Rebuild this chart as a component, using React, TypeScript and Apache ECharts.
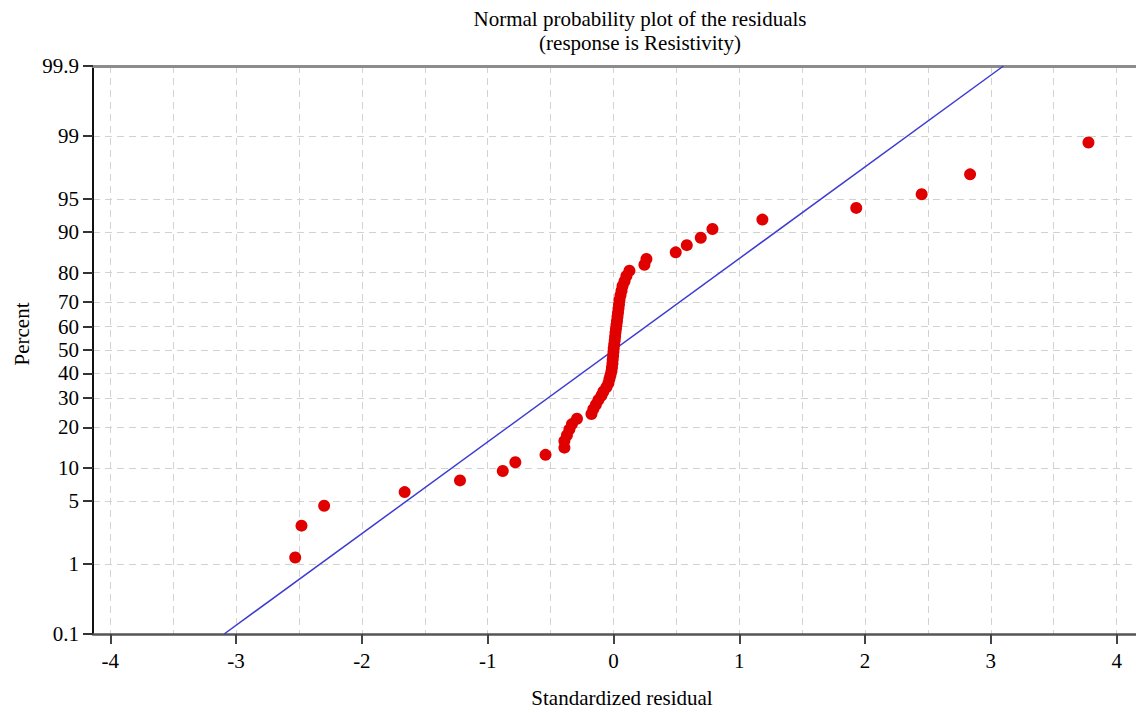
import React, { useEffect, useRef } from "react";
import * as echarts from "echarts";

// Standardized residuals (x) and their normal-probability percents (y)
const residuals = [
  -2.53, -2.48, -2.3, -1.66, -1.22, -0.88, -0.78, -0.54, -0.39, -0.39,
  -0.37, -0.35, -0.33, -0.29, -0.175, -0.16, -0.14, -0.12, -0.095, -0.08,
  -0.056, -0.04, -0.032, -0.024, -0.016, -0.012, -0.008, -0.006, -0.003, 0.0,
  0.002, 0.006, 0.01, 0.013, 0.016, 0.02, 0.024, 0.028, 0.032, 0.036,
  0.04, 0.044, 0.048, 0.056, 0.064, 0.072, 0.088, 0.103, 0.127, 0.246,
  0.262, 0.495, 0.583, 0.694, 0.787, 1.184, 1.93, 2.45, 2.835, 3.776,
];
const percents = [
  1.2, 2.8, 4.5, 6.1, 7.8, 9.4, 11.1, 12.7, 14.4, 16.1,
  17.7, 19.4, 21.0, 22.7, 24.3, 26.0, 27.6, 29.3, 31.0, 32.6,
  34.3, 35.9, 37.6, 39.2, 40.9, 42.5, 44.2, 45.9, 47.5, 49.2,
  50.8, 52.5, 54.1, 55.8, 57.5, 59.1, 60.8, 62.4, 64.1, 65.7,
  67.4, 69.0, 70.7, 72.4, 74.0, 75.7, 77.3, 79.0, 80.6, 82.3,
  83.9, 85.6, 87.3, 88.9, 90.6, 92.2, 93.9, 95.5, 97.2, 98.8,
];

// Reference (fitted normal) line endpoints
const fitResiduals = [-3.095, 3.1];
const fitPercents = [0.1, 99.9];

// Axis ticks
const percentTicks = [0.1, 1, 5, 10, 20, 30, 40, 50, 60, 70, 80, 90, 95, 99, 99.9];
const residualTicks = [-4, -3, -2, -1, 0, 1, 2, 3, 4];
const residualGrid = [-4, -3.5, -3, -2.5, -2, -1.5, -1, -0.5, 0, 0.5, 1, 1.5, 2, 2.5, 3, 3.5, 4];

const titleLine1 = "Normal probability plot of the residuals";
const titleLine2 = "(response is Resistivity)";
const xName = "Standardized residual";
const yName = "Percent";

// probit scale transform (inverse standard normal CDF, Acklam)
function probit(p: number): number {
  const a = [-39.69683028665376, 220.9460984245205, -275.9285104469687, 138.357751867269, -30.66479806614716, 2.506628277459239];
  const b = [-54.47609879822406, 161.5858368580409, -155.6989798598866, 66.80131188771972, -13.28068155288572];
  const c = [-0.007784894002430293, -0.3223964580411365, -2.400758277161838, -2.549732539343734, 4.374664141464968, 2.938163982698783];
  const d = [0.007784695709041462, 0.3224671290700398, 2.445134137142996, 3.754408661907416];
  const pl = 0.02425;
  let q: number, r: number;
  if (p < pl) {
    q = Math.sqrt(-2 * Math.log(p));
    return (((((c[0] * q + c[1]) * q + c[2]) * q + c[3]) * q + c[4]) * q + c[5]) /
      ((((d[0] * q + d[1]) * q + d[2]) * q + d[3]) * q + 1);
  }
  if (p > 1 - pl) {
    q = Math.sqrt(-2 * Math.log(1 - p));
    return -(((((c[0] * q + c[1]) * q + c[2]) * q + c[3]) * q + c[4]) * q + c[5]) /
      ((((d[0] * q + d[1]) * q + d[2]) * q + d[3]) * q + 1);
  }
  q = p - 0.5;
  r = q * q;
  return (((((a[0] * r + a[1]) * r + a[2]) * r + a[3]) * r + a[4]) * r + a[5]) * q /
    (((((b[0] * r + b[1]) * r + b[2]) * r + b[3]) * r + b[4]) * r + 1);
}
const toZ = (pct: number) => probit(pct / 100);

const FONT = "'Liberation Serif', 'Times New Roman', serif";

export default function App() {
  const ref = useRef<HTMLDivElement>(null);

  useEffect(() => {
    document.body.style.margin = "0";
    if (!ref.current) return;
    const chart = echarts.init(ref.current, undefined, { renderer: "svg" });

    const zTicks = percentTicks.map(toZ);
    const zMin = toZ(percentTicks[0]);
    const zMax = toZ(percentTicks[percentTicks.length - 1]);
    const xMin = -4.1375;
    const xMax = 4.154;

    const labelFor = (v: number) => {
      let best = 0;
      let bd = Infinity;
      zTicks.forEach((z, i) => {
        const dd = Math.abs(z - v);
        if (dd < bd) { bd = dd; best = i; }
      });
      return String(percentTicks[best]);
    };

    const gridLine = { color: "#d2d2d2", width: 1, type: [7, 5] as number[] };

    chart.setOption({
      animation: false,
      backgroundColor: "#ffffff",
      textStyle: { fontFamily: FONT },
      grid: { left: 93, right: 0, top: 66, bottom: 79, containLabel: false, outerBoundsMode: "none" },
      graphic: [
        { type: "text", x: 640, y: 19, style: { text: titleLine1, font: `21px ${FONT}`, fill: "#000", align: "center", verticalAlign: "middle" } },
        { type: "text", x: 640, y: 43, style: { text: titleLine2, font: `21px ${FONT}`, fill: "#000", align: "center", verticalAlign: "middle" } },
        { type: "text", x: 622, y: 698, style: { text: xName, font: `21px ${FONT}`, fill: "#000", align: "center", verticalAlign: "middle" } },
        { type: "text", x: 22, y: 334, rotation: Math.PI / 2, style: { text: yName, font: `21px ${FONT}`, fill: "#000", align: "center", verticalAlign: "middle" } },
      ],
      xAxis: [
        {
          type: "value",
          min: xMin,
          max: xMax,
          position: "bottom",
          axisLine: { show: true, onZero: false, lineStyle: { color: "#555", width: 2.5 } },
          axisTick: { show: true, length: 10, customValues: residualTicks, lineStyle: { color: "#444", width: 2 } },
          axisLabel: { customValues: residualTicks, margin: 16, fontFamily: FONT, fontSize: 21, color: "#000" },
          splitLine: { show: false },
        },
        {
          type: "value",
          min: xMin,
          max: xMax,
          position: "top",
          axisLine: { show: true, onZero: false, lineStyle: { color: "#8c8c8c", width: 3 } },
          axisTick: { show: false, customValues: residualGrid },
          axisLabel: { show: false },
          splitLine: { show: true, lineStyle: gridLine },
        },
      ],
      yAxis: {
        type: "value",
        min: zMin,
        max: zMax,
        axisLine: { show: true, onZero: false, lineStyle: { color: "#111", width: 2 } },
        axisTick: { show: true, length: 10, customValues: zTicks, lineStyle: { color: "#333", width: 2 } },
        axisLabel: { customValues: zTicks, formatter: (v: number) => labelFor(v), margin: 14, fontFamily: FONT, fontSize: 21, color: "#000" },
        splitLine: { show: true, lineStyle: gridLine },
      },
      series: [
        {
          type: "line",
          xAxisIndex: 0,
          data: fitResiduals.map((x, i) => [x, toZ(fitPercents[i])]),
          symbol: "none",
          lineStyle: { color: "#3c3cd0", width: 1.5 },
          z: 2,
        },
        {
          type: "scatter",
          xAxisIndex: 0,
          data: residuals.map((x, i) => [x, toZ(percents[i])]),
          symbol: "circle",
          symbolSize: 12,
          itemStyle: { color: "#e00000", opacity: 1 },
          z: 3,
        },
      ],
    });

    return () => chart.dispose();
  }, []);

  return <div ref={ref} style={{ width: 1136, height: 713 }} />;
}
